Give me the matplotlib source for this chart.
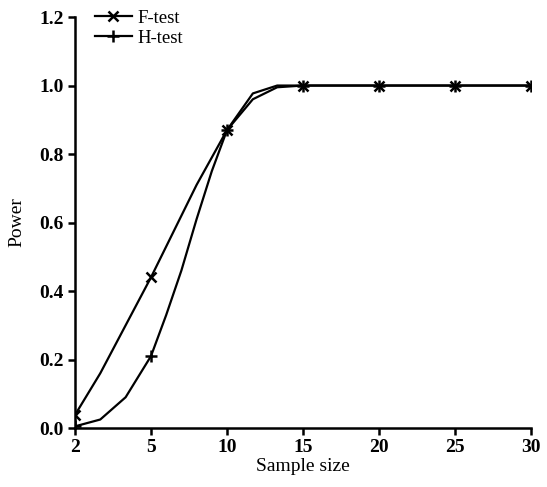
import numpy as np
import matplotlib
matplotlib.use("Agg")
import matplotlib.pyplot as plt

plt.rcParams['font.family'] = ['Liberation Serif', 'DejaVu Serif']

# Data
tick_vals = [2, 5, 10, 15, 20, 25, 30]
sample_size = [2, 3, 4, 5, 6, 7, 8, 9, 10, 11.7, 13.3, 15, 20, 25, 30]
f_test = [0.038, 0.16, 0.30, 0.44, 0.53, 0.62, 0.71, 0.79, 0.87, 0.96, 0.995, 1.0, 1.0, 1.0, 1.0]
h_test = [0.005, 0.025, 0.09, 0.21, 0.33, 0.46, 0.61, 0.75, 0.87, 0.977, 1.0, 1.0, 1.0, 1.0, 1.0]
y_ticks = [0.0, 0.2, 0.4, 0.6, 0.8, 1.0, 1.2]

idx = np.arange(len(tick_vals), dtype=float)
def fwd(x):
    return np.interp(x, tick_vals, idx)
def inv(y):
    return np.interp(y, idx, tick_vals)

fig = plt.figure(figsize=(5.47, 4.87), dpi=100)
ax = fig.add_axes([0.137, 0.121, 0.834, 0.844])
ax.set_xscale('function', functions=(fwd, inv))

mark_idx = [sample_size.index(v) for v in tick_vals]
ax.plot(sample_size, f_test, color='black', lw=1.6, marker='x', ms=7, mew=1.8,
        markevery=mark_idx, label='F-test')
ax.plot(sample_size, h_test, color='black', lw=1.6, marker='+', ms=9, mew=1.8,
        markevery=mark_idx, label='H-test')

ax.set_xlim(2, 30)
ax.set_ylim(0, 1.2)
ax.set_xticks(tick_vals)
ax.set_xticklabels([str(v) for v in tick_vals], fontweight='bold')
ax.set_yticks(y_ticks)
ax.set_yticklabels([f"{v:.1f}" for v in y_ticks], fontweight='bold')
ax.xaxis.set_minor_locator(matplotlib.ticker.NullLocator())

for s in ['top', 'right']:
    ax.spines[s].set_visible(False)
for s in ['left', 'bottom']:
    ax.spines[s].set_linewidth(1.8)
ax.tick_params(axis='both', direction='out', length=5, width=1.8, labelsize=14, pad=3)

ax.set_xlabel('Sample size', fontsize=14, labelpad=1)
ax.set_ylabel('Power', fontsize=14, labelpad=10)

leg = ax.legend(loc='upper left', bbox_to_anchor=(0.01, 1.055), frameon=False,
                fontsize=13.5, handlelength=2.0, handletextpad=0.3,
                labelspacing=0.15, borderaxespad=0.4)

fig.savefig('out.png', dpi=100)
